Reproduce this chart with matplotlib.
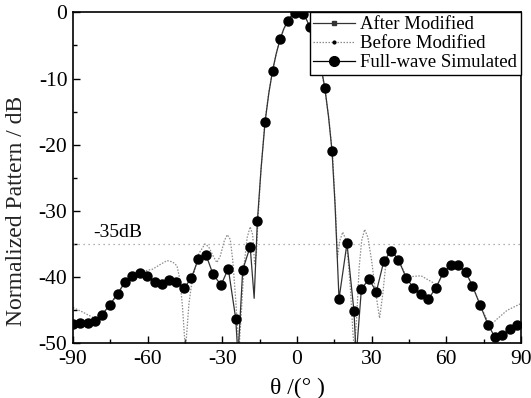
import numpy as np
import matplotlib
matplotlib.use("Agg")
import matplotlib.pyplot as plt
from matplotlib.lines import Line2D

plt.rcParams['font.family'] = ['Liberation Serif', 'DejaVu Serif']
plt.rcParams['axes.unicode_minus'] = False

# full-wave simulated samples
theta_fw = [-90, -87.2, -84.1, -81.1, -78.4, -75.2, -72.1, -69.2, -66.3, -63.2,
            -60.1, -57.2, -54.4, -51.5, -48.5, -45.4, -42.4, -39.7, -36.5, -33.7,
            -30.5, -27.6, -24.6, -21.8, -18.8, -15.9, -12.8, -9.8, -6.8, -3.7,
            -0.8, 2.3, 5.2, 8.2, 11.2, 14.1, 16.9, 20.1, 22.9, 25.9,
            28.9, 31.9, 34.9, 37.9, 40.8, 43.9, 46.8, 49.9, 52.8, 55.9,
            58.8, 61.9, 64.8, 67.9, 70.5, 73.6, 76.8, 79.6, 82.5, 85.6, 88.5]
db_fw = [-47.1, -47.0, -47.0, -46.6, -45.7, -44.2, -42.5, -40.8, -39.8, -39.4,
         -39.8, -40.8, -41.1, -40.5, -40.7, -41.7, -40.1, -37.3, -36.7, -39.6,
         -41.2, -38.7, -46.3, -38.9, -35.4, -31.5, -16.5, -8.8, -4.1, -1.3,
         -0.1, -0.3, -2.2, -5.7, -11.4, -21.0, -43.3, -34.9, -45.1, -41.8,
         -40.3, -42.2, -37.6, -36.0, -37.4, -40.1, -41.6, -42.6, -43.3, -41.6,
         -39.3, -38.2, -38.2, -39.3, -41.3, -44.2, -47.2, -49.1, -48.7, -47.9, -47.2]

# after modified (thin solid)
theta_after = [-90, -87.2, -84.1, -81.1, -78.4, -75.2, -72.1, -69.2, -66.3, -63.2,
               -60.1, -57.2, -54.4, -51.5, -48.5, -45.4, -42.4, -39.7, -36.5, -33.7,
               -30.5, -27.6, -24.6, -23.7, -21.8, -18.8, -17.2, -15.9, -14.4, -12.8,
               -11.3, -9.8, -8.3, -6.8, -5.3, -3.7, -2.2, -0.8, 0.7, 2.3,
               3.7, 5.2, 6.7, 8.2, 9.7, 11.2, 12.7, 14.1, 15.3, 16.9,
               20.1, 22.9, 23.8, 25.9, 28.9, 31.9, 34.9, 37.9, 40.8, 43.9,
               46.8, 49.9, 52.8, 55.9, 58.8, 61.9, 64.8, 67.9, 70.5, 73.6,
               76.8, 79.6, 82.5, 85.6, 88.5, 90]
db_after = [-47.1, -47.0, -47.0, -46.6, -45.7, -44.2, -42.5, -40.8, -39.8, -39.4,
            -39.8, -40.8, -41.1, -40.5, -40.7, -41.7, -40.1, -37.3, -36.7, -39.6,
            -41.2, -38.7, -46.3, -52.0, -38.9, -35.4, -43.2, -31.5, -23.5, -16.5,
            -12.2, -8.8, -6.2, -4.1, -2.5, -1.3, -0.5, -0.1, 0.0, -0.3,
            -1.0, -2.2, -3.8, -5.7, -8.3, -11.4, -15.8, -21.0, -29.0, -43.3,
            -34.9, -45.1, -52.0, -41.8, -40.3, -42.2, -37.6, -36.0, -37.4, -40.1,
            -41.6, -42.6, -43.3, -41.6, -39.3, -38.2, -38.2, -39.3, -41.3, -44.2,
            -47.2, -49.1, -48.7, -47.9, -47.2, -47.0]

# before modified (dotted)
theta_before = [-90, -86, -82, -78.4, -75.2, -72.1, -69.2, -66.3, -63.5, -60.5,
                -58, -55, -52.2, -50, -48.2, -47, -46, -45.2, -44.8, -44.2,
                -43.4, -42.4, -41.5, -39.5, -37, -35.5, -33.7, -32.2, -30.8, -29.2,
                -28, -26.8, -25.8, -24.6, -23.3, -22.3, -21.2, -20, -18.8, -17.8,
                -17, -16.3, -15.7, -14.5, -12.9, -11.3, -9.8, -8.3, -6.8, -5.3,
                -3.7, -2.2, -0.8, 0.7, 2.3, 3.7, 5.2, 6.7, 8.2, 9.7,
                11.2, 12.8, 14.3, 15.5, 16.3, 17.2, 18.4, 19.6, 20.6, 21.6,
                22.5, 23.1, 24, 25, 26, 27.2, 28.5, 30, 31.5, 33.2,
                34.5, 35.5, 36.5, 37.9, 40.8, 43.9, 46.5, 49.9, 52.2, 54.5,
                55.9, 58.8, 61.9, 64.8, 67.9, 70.5, 73.6, 76.8, 78.8, 80.5,
                84.5, 90]
db_before = [-44.6, -45.3, -46.1, -45.7, -44.2, -42.6, -40.9, -39.8, -39.2, -39.0,
             -38.8, -38.1, -37.5, -37.7, -38.3, -40.5, -44.5, -49.0, -51.0, -48.0,
             -44.0, -41.2, -39.6, -36.5, -35.0, -35.4, -36.8, -37.8, -36.8, -34.5,
             -33.6, -34.3, -37.5, -43.5, -51.0, -45.0, -38.0, -34.0, -32.4, -33.6,
             -38.0, -36.5, -31.5, -24.0, -16.5, -12.0, -8.8, -6.2, -4.1, -2.5,
             -1.3, -0.5, -0.1, 0.0, -0.3, -1.0, -2.2, -3.8, -5.8, -8.5,
             -11.6, -16.0, -21.5, -30.0, -37.0, -34.5, -33.2, -34.3, -37.5, -42.5,
             -48.5, -51.0, -46.0, -38.5, -34.5, -32.8, -34.0, -37.5, -42.0, -46.2,
             -42.5, -38.8, -36.9, -36.0, -37.4, -39.9, -39.9, -39.8, -40.3, -40.8,
             -41.6, -39.3, -38.2, -38.2, -39.3, -41.3, -44.2, -46.8, -46.9, -46.3,
             -45.0, -44.0]

ref_level = -35

fig = plt.figure(figsize=(5.31, 3.98), dpi=100)
ax = fig.add_axes([0.1375, 0.1374, 0.8435, 0.8316])

ax.axhline(ref_level, color='#999999', lw=0.9, ls=(0, (1, 3)))
ax.text(-82, -33.3, '-35dB', fontsize=14, va='center', ha='left')

ax.plot(theta_before, db_before, color='#8c8c8c', lw=0.9, ls=(0, (1.2, 1.2)))
ax.plot(theta_after, db_after, color='#333333', lw=0.9)
ax.plot(theta_fw, db_fw, 'o', color='black', ms=6.5, ls='none')

ax.set_xlim(-90, 90)
ax.set_ylim(-50, 0)
ax.set_xticks(np.arange(-90, 91, 30))
ax.set_xticks(np.arange(-90, 91, 15), minor=True)
ax.set_yticks(np.arange(-50, 1, 10))
ax.set_yticks(np.arange(-50, 1, 5), minor=True)
ax.tick_params(which='both', direction='in', top=False, right=False,
               labelsize=15.5, width=1.0)
ax.tick_params(which='major', length=5)
ax.tick_params(which='minor', length=3)
ax.tick_params(axis='x', pad=5)
ax.tick_params(axis='y', pad=4)
for s in ax.spines.values():
    s.set_linewidth(1.2)

ax.set_xlabel('θ /(° )', fontsize=17, labelpad=6)
ax.set_ylabel('Normalized Pattern / dB', fontsize=17, color='#222222')
ax.yaxis.set_label_coords(-0.103, 0.40)

handles = [
    Line2D([], [], color='#333333', lw=0.9, marker='s', ms=2.5),
    Line2D([], [], color='#8c8c8c', lw=0.9, ls=(0, (1.2, 1.2)), marker='o',
           ms=2, mfc='black', mec='black'),
    Line2D([], [], color='black', lw=0.9, marker='o', ms=7),
]
leg = ax.legend(handles, ['After Modified', 'Before Modified', 'Full-wave Simulated'],
                loc='upper right', fontsize=13.5, frameon=True, fancybox=False,
                framealpha=1, borderaxespad=0, handlelength=2.2, handletextpad=0.3,
                labelspacing=0.1, borderpad=0.2)
leg.get_frame().set_edgecolor('black')
leg.get_frame().set_linewidth(1.0)

fig.savefig('out.png', dpi=100)
